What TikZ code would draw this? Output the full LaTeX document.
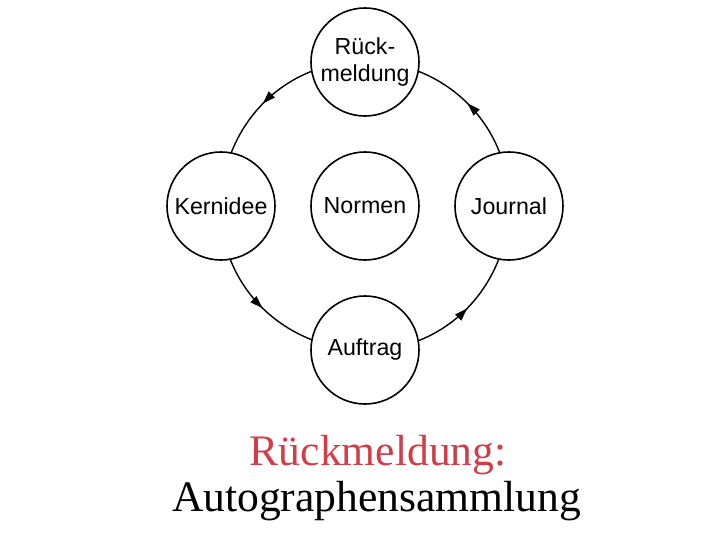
\documentclass[tikz,border=0pt]{standalone}
\usepackage{fontspec}
\setmainfont{Liberation Serif}
\setsansfont{Liberation Sans}
\usetikzlibrary{arrows.meta,decorations.markings}
\definecolor{titlered}{RGB}{208,62,72}
\tikzset{
  ring/.style={
    circle,
    draw=black,
    line width=0.4mm,
    minimum size=2.7cm,
    inner sep=0pt,
    align=center,
    font=\sffamily\fontsize{16.5}{18.5}\selectfont
  },
  loop-arc/.style={
    line width=0.35mm,
    postaction={decorate},
    decoration={markings,
      mark=at position 0.5 with {\arrow{Triangle[length=3.2mm,width=2.1mm]}}}
  },
  caption/.style={
    anchor=base,
    inner sep=0pt,
    font=\rmfamily\fontsize{31}{33}\selectfont
  }
}

\begin{document}
\begin{tikzpicture}
  \useasboundingbox (-9.125,-8.35) rectangle (8.875,5.15);
  \node[ring] (normen) at (0,0) {Normen};
  \node[ring] (rueck) at (0,3.6) {Rück-\\meldung};
  \node[ring] (kern) at (-3.6,0) {Kernidee};
  \node[ring] (journal) at (3.6,0) {Journal};
  \node[ring] (auftrag) at (0,-3.6) {Auftrag};
  % arcs of the big circle round Normen
  \foreach \src/\dst/\ang [evaluate=\ang as \sa using \ang+100.8,
      evaluate=\ang as \ea using \ang-10.8,
      evaluate=\ang as \dout using \ang+111.6,
      evaluate=\ang as \din using \ang-21.6]
      in {rueck/kern/90,kern/auftrag/180,auftrag/journal/270,journal/rueck/0} {
    \draw[loop-arc] (\src.\sa) to[out=\dout, in=\din, looseness=0.89] (\dst.\ea);
  }
  \node[caption, text=titlered] (titel) at (0.33,-6.475) {Rückmeldung:};
  \node[caption] (untertitel) at (0.29,-7.625) {Autographensammlung};
\end{tikzpicture}
\end{document}
